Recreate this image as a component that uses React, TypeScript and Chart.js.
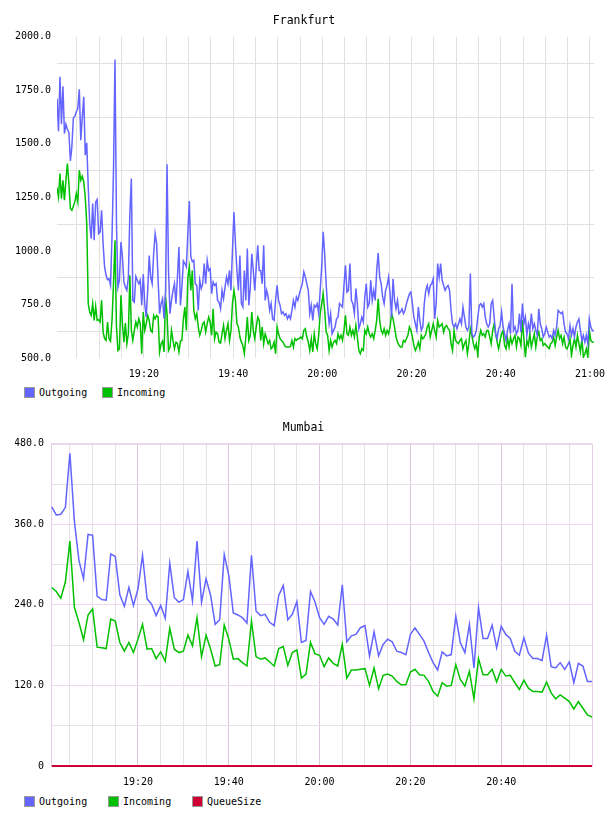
import React, { useEffect, useRef } from "react";
import { Chart, registerables } from "chart.js";

Chart.register(...registerables);

const FONT_FAMILY = "'DejaVu Sans Mono', monospace";
const OUT_COLOR = "#6464ff";
const IN_COLOR = "#00c000";
const QUEUE_COLOR = "#cc0033";

// x axis: minutes after 19:00
const FRA_TIME_TICK_MINUTES = [20, 40, 60, 80, 100, 120];
const FRA_TIME_TICK_LABELS = ["19:20", "19:40", "20:00", "20:20", "20:40", "21:00"];
const MUM_TIME_TICK_MINUTES = [20, 40, 60, 80, 100];
const MUM_TIME_TICK_LABELS = ["19:20", "19:40", "20:00", "20:20", "20:40"];

// ---------------- Frankfurt (one sample every 20 s) ----------------
const FRA_FIRST_MINUTE = 0.52;
const FRA_STEP_MINUTES = 1 / 3;
const FRA_X_RANGE = [0.52, 120.9];
const FRA_Y_LABELS = [500, 750, 1000, 1250, 1500, 1750, 2000];

const FRA_OUTGOING = [
  1712, 1559, 1813, 1592, 1769, 1548, 1592, 1567, 1553, 1420,
  1486, 1621, 1629, 1650, 1665, 1755, 1517, 1626, 1720, 1447,
  1505, 1299, 1127, 1057, 1221, 1050, 1229, 1240, 1081, 1089,
  1190, 1034, 925, 886, 866, 870, 839, 1065, 1377, 1894,
  1127, 831, 863, 1042, 972, 855, 831, 816, 878, 1174,
  1338, 769, 761, 881, 863, 847, 863, 746, 891, 754,
  691, 816, 979, 878, 847, 987, 1081, 1034, 863, 707,
  754, 777, 683, 816, 1405, 909, 707, 769, 816, 847,
  754, 878, 1018, 746, 831, 953, 941, 925, 1081, 1233,
  972, 950,
  956, 847, 839, 722, 863, 824, 847, 941, 847, 956,
  909, 917, 800, 855, 839, 847, 769, 761, 730, 816,
  777, 831, 878, 847, 909, 816, 1003, 1182, 1034, 909,
  816, 979, 754, 738, 909, 769, 1011, 746, 831, 987,
  909, 816, 925, 1026, 909, 909, 847, 1026, 769, 816,
  785, 722, 754, 683, 676, 769, 839, 769, 746, 707,
  715, 699, 707, 683, 699, 683, 722, 769, 738, 785,
  769, 800, 824, 847, 902, 878, 847, 816, 707, 746,
  676, 746, 738, 754, 707, 816, 925, 1089, 987, 847,
  738, 660, 707, 613, 629, 645, 683, 691, 754, 746,
  738, 839, 933, 808, 816, 941, 769, 754, 707, 824,
  754, 637, 660, 691, 668, 785, 847, 738, 754, 863,
  769, 816, 769, 909, 990, 878, 847, 785, 754, 816,
  839, 878, 800, 691, 870, 769, 730, 769, 707, 715,
  730, 707, 722, 754, 777, 800, 808, 754, 691, 660,
  629, 738, 676, 629, 645, 754, 816, 839, 800, 839,
  847, 870, 683, 754, 941, 878, 941, 863, 839, 816,
  831, 839, 816, 722, 660, 645, 660, 637, 660, 683,
  660, 738, 691, 645, 629, 645, 894, 613, 598, 606,
  629, 691, 746, 754, 738, 754, 691, 660, 645, 660,
  754, 769, 691, 613, 590, 637, 652, 715, 645, 613,
  582, 629, 660, 613, 847, 629, 645, 613, 629, 707,
  621, 754, 660, 691, 606, 660, 629, 707, 637, 660,
  629, 606, 730, 660, 637, 598, 613, 645, 621, 598,
  606, 590, 629, 606, 645, 722, 715, 707, 715, 660,
  621, 613, 590, 652, 606, 637, 598, 645, 668, 683,
  629, 582, 606, 574, 606, 567, 683, 645, 629, 626,
];

const FRA_INCOMING = [
  1296, 1252, 1361, 1244, 1330, 1237, 1330, 1408, 1314, 1198,
  1190, 1209, 1229, 1268, 1229, 1377, 1330, 1349, 1322, 1252,
  1127, 754, 715, 699, 754, 676, 741, 676, 679, 668,
  769, 621, 590, 582, 668, 590, 579, 676, 847, 1050,
  645, 535, 543, 793, 660, 574, 663, 567, 613, 886,
  629, 582, 629, 668, 645, 683, 660, 520, 715, 629,
  660, 699, 676, 629, 621, 699, 683, 699, 691, 528,
  567, 579, 528, 785, 707, 535, 551, 629, 582, 543,
  574, 567, 528, 579, 582, 683, 738, 629, 878, 925,
  816, 909,
  722, 683, 707, 645, 606, 629, 660, 668, 621, 660,
  691, 668, 606, 730, 590, 621, 613, 574, 570, 613,
  652, 590, 629, 660, 582, 629, 754, 816, 769, 660,
  645, 598, 574, 559, 520, 598, 691, 582, 606, 715,
  629, 590, 645, 691, 676, 582, 645, 567, 613, 590,
  567, 582, 543, 551, 574, 520, 645, 613, 590, 582,
  574, 559, 551, 551, 551, 554, 582, 551, 590, 582,
  590, 590, 598, 590, 629, 637, 598, 574, 535, 590,
  528, 613, 567, 543, 606, 707, 754, 801, 722, 621,
  606, 535, 582, 551, 574, 582, 567, 613, 590, 606,
  582, 629, 699, 613, 606, 645, 606, 629, 598, 652,
  598, 535, 520, 543, 535, 629, 613, 645, 613, 598,
  613, 590, 629, 676, 777, 676, 629, 613, 637, 606,
  629, 613, 645, 707, 683, 645, 598, 574, 559, 551,
  551, 582, 574, 590, 606, 645, 629, 598, 559, 535,
  551, 574, 543, 606, 590, 598, 613, 645, 660, 598,
  629, 660, 629, 598, 676, 645, 652, 660, 621, 645,
  652, 637, 629, 567, 535, 629, 582, 574, 567, 582,
  590, 543, 567, 582, 520, 567, 637, 606, 567, 543,
  567, 512, 598, 629, 606, 613, 598, 629, 629, 598,
  567, 629, 660, 613, 574, 543, 582, 613, 629, 559,
  543, 590, 551, 598, 567, 590, 606, 551, 598, 590,
  559, 676, 590, 504, 582, 559, 613, 551, 582, 613,
  551, 598, 621, 582, 590, 559, 567, 559, 551, 543,
  567, 574, 598, 559, 598, 629, 590, 606, 567, 598,
  551, 543, 559, 590, 512, 559, 590, 551, 606, 567,
  528, 590, 504, 520, 543, 504, 629, 582, 574, 575,
];

// ---------------- Mumbai (one sample per minute) ----------------
const MUM_FIRST_MINUTE = 1;
const MUM_STEP_MINUTES = 1;
const MUM_X_RANGE = [0.84, 120];
const MUM_Y_LABELS = [0, 120, 240, 360, 480];

const MUM_OUTGOING = [
  386, 374, 375, 385, 466, 364, 306, 279, 345, 344,
  253, 248, 247, 316, 312, 255, 238, 266, 239, 264,
  314, 249, 241, 224, 239, 220, 302, 251, 244, 248,
  290, 246, 335, 244, 279, 254, 211, 218, 315, 284,
  228, 225, 221, 213, 314, 231, 224, 226, 214, 209,
  254, 269, 218, 226, 245, 184, 187, 260, 244, 221,
  211, 223, 219, 210, 270, 185, 194, 196, 206, 209,
  164, 200, 164, 181, 189, 185, 171, 169, 166, 196,
  206, 196, 186, 169, 154, 143, 170, 164, 166, 223,
  184, 169, 211, 146, 236, 190, 190, 210, 176, 208,
  196, 190, 171, 165, 191, 168, 160, 160, 157, 195,
  148, 146, 154, 144, 155, 124, 153, 149, 126, 126,
];

const MUM_INCOMING = [
  266, 260, 250, 274, 335, 236, 214, 188, 225, 234,
  177, 176, 175, 219, 216, 184, 171, 184, 169, 189,
  211, 174, 175, 160, 170, 156, 205, 174, 169, 171,
  195, 179, 221, 163, 195, 174, 149, 151, 210, 189,
  159, 160, 154, 149, 216, 163, 159, 161, 155, 149,
  175, 178, 150, 169, 173, 131, 137, 184, 167, 165,
  148, 161, 153, 149, 181, 131, 143, 143, 144, 145,
  120, 146, 115, 135, 137, 134, 126, 121, 121, 140,
  144, 136, 135, 126, 111, 104, 124, 119, 120, 151,
  129, 119, 141, 100, 160, 136, 136, 144, 125, 144,
  134, 135, 124, 114, 128, 116, 111, 111, 110, 125,
  109, 100, 106, 101, 96, 85, 96, 86, 76, 73,
];

const MUM_QUEUE = [
  0, 0, 0, 0, 0, 0, 0, 0, 0, 0,
  0, 0, 0, 0, 0, 0, 0, 0, 0, 0,
  0, 0, 0, 0, 0, 0, 0, 0, 0, 0,
  0, 0, 0, 0, 0, 0, 0, 0, 0, 0,
  0, 0, 0, 0, 0, 0, 0, 0, 0, 0,
  0, 0, 0, 0, 0, 0, 0, 0, 0, 0,
  0, 0, 0, 0, 0, 0, 0, 0, 0, 0,
  0, 0, 0, 0, 0, 0, 0, 0, 0, 0,
  0, 0, 0, 0, 0, 0, 0, 0, 0, 0,
  0, 0, 0, 0, 0, 0, 0, 0, 0, 0,
  0, 0, 0, 0, 0, 0, 0, 0, 0, 0,
  0, 0, 0, 0, 0, 0, 0, 0, 0, 0,
];

type Series = { label: string; data: number[]; color: string; width: number; noClip?: boolean };

type ChartProps = {
  title: string;
  top: number;
  height: number;
  padLeft: number;
  padRight: number;
  xFirst: number;
  xStep: number;
  xRange: number[];
  xTickMinutes: number[];
  xTickLabels: string[];
  yMin: number;
  yMax: number;
  yStep: number;
  yLabels: number[];
  yFormat: (v: number) => string;
  yAxisWidth: number;
  yPadding: number;
  series: Series[];
  gridX: (v: number) => string;
  gridY: (v: number) => string;
  frameColor?: string;
};

const near = (a: number, b: number) => Math.abs(a - b) < 1e-6;

function TimeChart(p: ChartProps) {
  const ref = useRef<HTMLCanvasElement>(null);
  useEffect(() => {
    const canvas = ref.current;
    if (!canvas) return;
    const datasets = p.series.map((s) => ({
      label: s.label,
      data: s.data.map((v, i) => ({ x: p.xFirst + i * p.xStep, y: v })),
      borderColor: s.color,
      backgroundColor: s.color,
      borderWidth: s.width,
      pointRadius: 0,
      pointHoverRadius: 0,
      fill: false,
      tension: 0,
      clip: s.noClip ? false : undefined,
    }));
    const frame = {
      id: "frame",
      beforeDatasetsDraw(chart: any) {
        if (!p.frameColor) return;
        const { ctx, chartArea: a } = chart;
        ctx.save();
        ctx.strokeStyle = p.frameColor;
        ctx.lineWidth = 1;
        ctx.strokeRect(a.left + 0.5, a.top + 0.5, a.right - a.left, a.bottom - a.top);
        ctx.restore();
      },
    };
    const tickFont = { family: FONT_FAMILY, size: 10 };
    const chart = new Chart(canvas, {
      type: "line",
      data: { datasets },
      plugins: [frame],
      options: {
        responsive: false,
        animation: false,
        events: [],
        layout: { padding: { left: p.padLeft, right: p.padRight, top: 0, bottom: 0 } },
        plugins: {
          legend: { display: false },
          tooltip: { enabled: false },
          title: {
            display: true,
            text: p.title,
            color: "#000",
            font: { family: FONT_FAMILY, size: 11.5, weight: "normal" },
            padding: { top: 14, bottom: 9 },
          },
        },
        scales: {
          x: {
            type: "linear",
            min: p.xRange[0],
            max: p.xRange[1],
            border: { display: false },
            grid: {
              drawTicks: false,
              lineWidth: 1,
              color: (ctx: any) => p.gridX(ctx.tick ? ctx.tick.value : 0),
            },
            ticks: {
              stepSize: 5,
              includeBounds: false,
              autoSkip: false,
              maxRotation: 0,
              minRotation: 0,
              padding: 10,
              color: "#000",
              font: tickFont,
              callback: (value: any) => {
                const idx = p.xTickMinutes.findIndex((m) => near(m, Number(value)));
                return idx >= 0 ? p.xTickLabels[idx] : "";
              },
            },
            afterFit: (s: any) => {
              s.height = 26;
              s.paddingLeft = 0;
              s.paddingRight = 0;
            },
          },
          y: {
            type: "linear",
            min: p.yMin,
            max: p.yMax,
            border: { display: false },
            grid: {
              drawTicks: false,
              lineWidth: 1,
              color: (ctx: any) => p.gridY(ctx.tick ? ctx.tick.value : 0),
            },
            ticks: {
              stepSize: p.yStep,
              autoSkip: false,
              padding: p.yPadding,
              color: "#000",
              font: tickFont,
              callback: (value: any) => {
                const v = Number(value);
                return p.yLabels.some((l) => near(l, v)) ? p.yFormat(v) : "";
              },
            },
            afterFit: (s: any) => {
              s.width = p.yAxisWidth;
            },
          },
        },
      } as any,
    });
    return () => chart.destroy();
  }, []);
  return (
    <canvas
      ref={ref}
      width={608}
      height={p.height}
      style={{ position: "absolute", left: 0, top: p.top, width: 608, height: p.height }}
    />
  );
}

type LegendItem = { label: string; color: string; left: number };

function Legend({ top, items }: { top: number; items: LegendItem[] }) {
  return (
    <>
      {items.map((it) => (
        <div
          key={it.label}
          style={{
            position: "absolute",
            top,
            left: it.left,
            height: 11,
            display: "flex",
            alignItems: "center",
            font: `10px ${FONT_FAMILY}`,
            color: "#000",
            whiteSpace: "nowrap",
          }}
        >
          <span
            style={{
              display: "inline-block",
              width: 9,
              height: 9,
              border: "1px solid #999",
              background: it.color,
              marginRight: 4,
            }}
          />
          <span>{it.label}</span>
        </div>
      ))}
    </>
  );
}

export default function App() {
  const fraGrid = "#e0e0e0";
  return (
    <div style={{ position: "absolute", left: 0, top: 0, width: 608, height: 816, background: "#fff" }}>
      <TimeChart
        title="Frankfurt"
        top={0}
        height={384}
        padLeft={14}
        padRight={14}
        xFirst={FRA_FIRST_MINUTE}
        xStep={FRA_STEP_MINUTES}
        xRange={FRA_X_RANGE}
        xTickMinutes={FRA_TIME_TICK_MINUTES}
        xTickLabels={FRA_TIME_TICK_LABELS}
        yMin={500}
        yMax={2000}
        yStep={125}
        yLabels={FRA_Y_LABELS}
        yFormat={(v) => v.toFixed(1)}
        yAxisWidth={43}
        yPadding={6}
        series={[
          { label: "Outgoing", data: FRA_OUTGOING, color: OUT_COLOR, width: 1.5 },
          { label: "Incoming", data: FRA_INCOMING, color: IN_COLOR, width: 1.5 },
        ]}
        gridX={() => fraGrid}
        gridY={(v) => (FRA_Y_LABELS.some((l) => near(l, v)) ? "rgba(0,0,0,0)" : fraGrid)}
      />
      <Legend
        top={387}
        items={[
          { label: "Outgoing", color: OUT_COLOR, left: 24 },
          { label: "Incoming", color: IN_COLOR, left: 102 },
        ]}
      />
      <TimeChart
        title="Mumbai"
        top={407}
        height={385}
        padLeft={15}
        padRight={16}
        xFirst={MUM_FIRST_MINUTE}
        xStep={MUM_STEP_MINUTES}
        xRange={MUM_X_RANGE}
        xTickMinutes={MUM_TIME_TICK_MINUTES}
        xTickLabels={MUM_TIME_TICK_LABELS}
        yMin={0}
        yMax={480}
        yStep={60}
        yLabels={MUM_Y_LABELS}
        yFormat={(v) => (v === 0 ? "0" : v.toFixed(1))}
        yAxisWidth={36}
        yPadding={7}
        series={[
          { label: "Outgoing", data: MUM_OUTGOING, color: OUT_COLOR, width: 1.5 },
          { label: "Incoming", data: MUM_INCOMING, color: IN_COLOR, width: 1.5 },
          { label: "QueueSize", data: MUM_QUEUE, color: QUEUE_COLOR, width: 2, noClip: true },
        ]}
        gridX={(v) => (MUM_TIME_TICK_MINUTES.some((m) => near(m, v)) ? "#dcc6dc" : "#e7e2e7")}
        gridY={(v) => (MUM_Y_LABELS.some((l) => near(l, v)) ? "#eed9ee" : "#e6e3e6")}
        frameColor="#e6cfe6"
      />
      <Legend
        top={796}
        items={[
          { label: "Outgoing", color: OUT_COLOR, left: 24 },
          { label: "Incoming", color: IN_COLOR, left: 108 },
          { label: "QueueSize", color: QUEUE_COLOR, left: 192 },
        ]}
      />
    </div>
  );
}
